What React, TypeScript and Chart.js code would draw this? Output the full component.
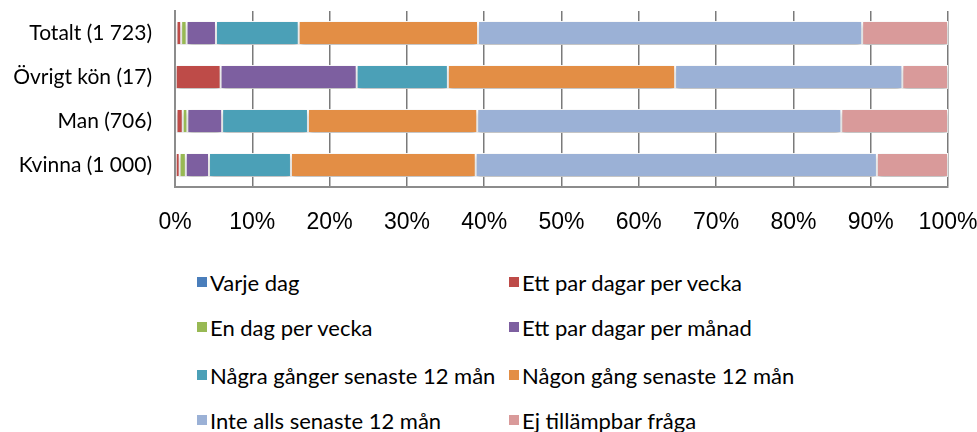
import React, { useEffect, useRef } from "react";
import { Chart, registerables } from "chart.js";

Chart.register(...registerables);

const categories = ["Totalt (1 723)", "Övrigt kön (17)", "Man (706)", "Kvinna (1 000)"];

const seriesLabels = [
  "Varje dag",
  "Ett par dagar per vecka",
  "En dag per vecka",
  "Ett par dagar per månad",
  "Några gånger senaste 12 mån",
  "Någon gång senaste 12 mån",
  "Inte alls senaste 12 mån",
  "Ej tillämpbar fråga",
];

const varjeDag = [0.2, 0, 0.2, 0.1];
const ettParDagarPerVecka = [0.6, 5.9, 0.8, 0.5];
const enDagPerVecka = [0.7, 0, 0.6, 0.8];
const ettParDagarPerManad = [3.8, 17.6, 4.5, 3.0];
const nagraGanger = [10.7, 11.8, 11.1, 10.6];
const nagonGang = [23.2, 29.4, 21.9, 23.9];
const inteAlls = [49.7, 29.4, 47.1, 51.9];
const ejTillampbar = [11.1, 5.9, 13.8, 9.2];

const seriesValues = [
  varjeDag,
  ettParDagarPerVecka,
  enDagPerVecka,
  ettParDagarPerManad,
  nagraGanger,
  nagonGang,
  inteAlls,
  ejTillampbar,
];

const seriesColors = [
  "#4A7EBB",
  "#BE4B48",
  "#98B954",
  "#7D5FA0",
  "#4BA0B7",
  "#E38E45",
  "#9BB1D6",
  "#D99A9A",
];

const xMin = 0;
const xMax = 100;
const xStep = 10;

const shadowPlugin = {
  id: "barShadow",
  beforeDatasetsDraw(chart: any) {
    const ctx = chart.ctx;
    ctx.save();
    ctx.shadowColor = "rgba(0,0,0,0.28)";
    ctx.shadowBlur = 5;
    ctx.shadowOffsetX = 0;
    ctx.shadowOffsetY = 3;
  },
  afterDatasetsDraw(chart: any) {
    chart.ctx.restore();
  },
};

export default function App() {
  const canvasRef = useRef<HTMLCanvasElement | null>(null);

  useEffect(() => {
    document.body.style.margin = "0";
    const canvas = canvasRef.current;
    if (!canvas) return;
    const chart = new Chart(canvas, {
      type: "bar",
      data: {
        labels: categories,
        datasets: seriesLabels.map((label, i) => ({
          label,
          data: seriesValues[i],
          backgroundColor: seriesColors[i],
          borderColor: "rgba(255,255,255,0.95)",
          borderWidth: 1,
          borderSkipped: false,
          barPercentage: 0.54,
          categoryPercentage: 1,
        })),
      },
      options: {
        indexAxis: "y",
        animation: false,
        responsive: false,
        maintainAspectRatio: false,
        layout: { padding: { top: 11, right: 29, left: 0, bottom: 0 } },
        plugins: {
          legend: { display: false },
          tooltip: { enabled: false },
        },
        scales: {
          x: {
            type: "linear",
            stacked: true,
            min: xMin,
            max: xMax,
            ticks: {
              stepSize: xStep,
              callback: (v: any) => v + "%",
              color: "#000",
              padding: 22,
              maxRotation: 0,
              font: { family: "'Liberation Sans', Arial, sans-serif", size: 23 },
            },
            grid: {
              display: true,
              color: "#7a7a7a",
              lineWidth: 1.5,
              drawTicks: false,
            },
            border: { display: true, color: "#8c8c8c", width: 2 },
            afterFit: (scale: any) => {
              scale.height = 61;
              scale.paddingLeft = 0;
              scale.paddingRight = 0;
            },
          },
          y: {
            type: "category",
            stacked: true,
            ticks: {
              color: "#000",
              padding: 23,
              font: { family: "Lato, 'Open Sans', sans-serif", size: 21 },
            },
            grid: { display: false, drawTicks: false },
            border: { display: true, color: "#8c8c8c", width: 2 },
            afterFit: (scale: any) => {
              scale.width = 175;
              scale.paddingTop = 0;
              scale.paddingBottom = 0;
            },
          },
        },
      },
      plugins: [shadowPlugin],
    } as any);
    return () => chart.destroy();
  }, []);

  const rowTops = [268, 313, 361, 406];
  const colLefts = [197, 509];

  return (
    <div style={{ position: "relative", width: 977, height: 432, background: "#fff" }}>
      <canvas ref={canvasRef} width={977} height={248} style={{ display: "block" }} />
      {seriesLabels.map((label, i) => {
        const row = Math.floor(i / 2);
        const col = i % 2;
        return (
          <div
            key={label}
            style={{
              position: "absolute",
              left: colLefts[col],
              top: rowTops[row],
              display: "flex",
              alignItems: "center",
              height: 28,
              fontFamily: "Lato, 'Open Sans', sans-serif",
              fontSize: 22,
              color: "#000",
              whiteSpace: "nowrap",
            }}
          >
            <span
              style={{
                display: "inline-block",
                width: 10,
                height: 10,
                background: seriesColors[i],
                marginRight: 3,
              }}
            />
            <span>{label}</span>
          </div>
        );
      })}
    </div>
  );
}
